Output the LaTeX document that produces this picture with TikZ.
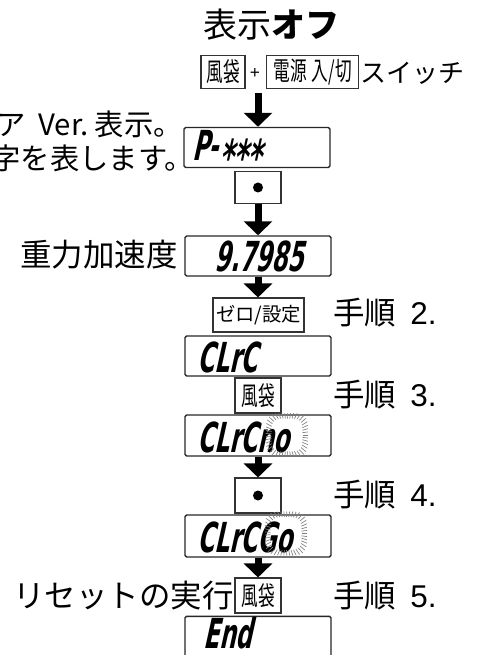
\documentclass[tikz,border=0pt]{standalone}
\usepackage{fontspec}
\usetikzlibrary{arrows.meta}
\newfontfamily\jp{Noto Sans CJK JP}
\newfontfamily\keyf{Noto Sans CJK JP}[FakeStretch=0.64]
\newfontfamily\lat{Liberation Sans}
\newfontfamily\lcd{DejaVu Sans}[FakeStretch=0.56,FakeSlant=0.22]
\tikzset{
  keybox/.style={draw=black!80, line width=0.8pt, inner sep=0pt, font=\keyf\fontsize{19.5}{19.5}\selectfont},
  disp/.style={draw=black!85, line width=1.1pt, rounded corners=1.2pt, minimum width=109.5pt, minimum height=30pt, inner sep=0pt},
  lcdtext/.style={font=\lcd\bfseries\fontsize{31}{31}\selectfont, inner sep=0pt, text depth=0pt, anchor=base west},
  flow/.style={line width=5.25pt, -{Triangle[width=21pt,length=10.5pt]}},
  blinkline/.style={draw=black!50, line width=0.5pt},
  label/.style={font=\jp\fontsize{23.6}{23.6}\selectfont, inner sep=0pt},
  steplabel/.style={label, anchor=west},
  sidetext/.style={font=\jp\fontsize{22}{22}\selectfont, anchor=east, inner sep=0pt},
}
\newcommand\blinkmark[2]{%
  \foreach \a in {0,8,...,352}{
    \pgfmathsetmacro\c{cos(\a)}
    \pgfmathsetmacro\s{sin(\a)}
    \pgfmathsetmacro\r{1/sqrt(sqrt(\c*\c*\c*\c+\s*\s*\s*\s))}
    \draw[blinkline] ({#1+15.5*\r*\c},{#2+16.5*\r*\s}) -- ({#1+21*\r*\c},{#2+22*\r*\s});
  }}
\begin{document}
\begin{tikzpicture}[x=0.75pt,y=-0.75pt]
\useasboundingbox (0,0) rectangle (485,655);
% title
\node[font=\jp\fontsize{25.5}{25.5}\selectfont, inner sep=0pt] (title) at (271,25) {表示{\bfseries オフ}};
% key row
\node[keybox, minimum width=33pt, minimum height=25pt] (kA) at (223,72) {風袋};
\node[font=\lat\fontsize{13}{13}\selectfont, inner sep=0pt] (plus) at (255,74) {+};
\node[keybox, minimum width=68.5pt, minimum height=25pt] (kB) at (312.5,72) {電源\hspace{0.2em}入/切};
\node[font=\jp\fontsize{19.5}{19.5}\selectfont, anchor=west, inner sep=0pt] (sw) at (360,73) {スイッチ};
\coordinate (start) at (258,93);
% display 1
\node[disp] (d1) at (257,147.5) {};
\node[lcdtext] (t1) at (192,161) {P-{\fontsize{36}{36}\selectfont\raisebox{-10.5pt}{***}}};
\node[sidetext] (l1) at (183,124) {ア\hspace{0.45em}Ver.\hspace{0.2em}表示。};
\node[sidetext] (l2) at (194,158) {字を表します。};
% dot key 1
\node[keybox, minimum width=34.5pt, minimum height=24pt] (kd1) at (258,187.5) {};
\fill (kd1.center) circle[radius=3.75pt];
% display 2
\node[disp] (d2) at (258,256) {};
\node[lcdtext, anchor=base] (t2) at (259,272) {9.7985};
\node[label, anchor=east] (grav) at (178,255) {重力加速度};
% key zero/set
\node[keybox, font=\jp\fontsize{14.5}{14.5}\selectfont, minimum width=68.25pt, minimum height=25.5pt] (k3) at (258.5,315) {ゼロ/設定};
\node[steplabel] (s2) at (333,313) {手順{\lat\hspace{0.45em}2.}};
% display 3
\node[disp] (d3) at (258,356) {};
\node[lcdtext] (t3) at (197,372) {CLrC};
% key tare
\node[keybox, minimum width=34.5pt, minimum height=26.25pt] (k4) at (258,395.5) {風袋};
\node[steplabel] (s3) at (333,395) {手順{\lat\hspace{0.45em}3.}};
% display 4
\node[disp, minimum height=30.75pt] (d4) at (258,435.5) {};
\node[lcdtext] (t4) at (197,452) {CLrCno};
\blinkmark{287}{435}
% dot key 2
\node[keybox, minimum width=34.5pt, minimum height=26.25pt] (kd2) at (258,495.5) {};
\fill (kd2.center) circle[radius=3.75pt];
\node[steplabel] (s4) at (333,495) {手順{\lat\hspace{0.45em}4.}};
% display 5
\node[disp, minimum height=31.5pt] (d5) at (258,536) {};
\node[lcdtext] (t5) at (197,552) {CLrCGo};
\blinkmark{286}{533.5}
% key tare 2
\node[keybox, minimum width=34.5pt, minimum height=26.25pt] (k5) at (258,595.5) {風袋};
\node[label, anchor=east] (reset) at (234,596) {リセットの実行};
\node[steplabel] (s5) at (333,596) {手順{\lat\hspace{0.45em}5.}};
% display 6
\node[disp, minimum height=31pt] (d6) at (258,637) {};
\node[lcdtext] (t6) at (203,648) {End};
% arrows
\draw[flow] (start) -- (start |- d1.north);
\draw[flow] (kd1.south) -- (d2.north);
\draw[flow] (d2.south) -- (d2.south |- k3.north);
\draw[flow] (d4.south) -- (kd2.north);
\draw[flow] (d5.south) -- (k5.north);
\end{tikzpicture}
\end{document}
